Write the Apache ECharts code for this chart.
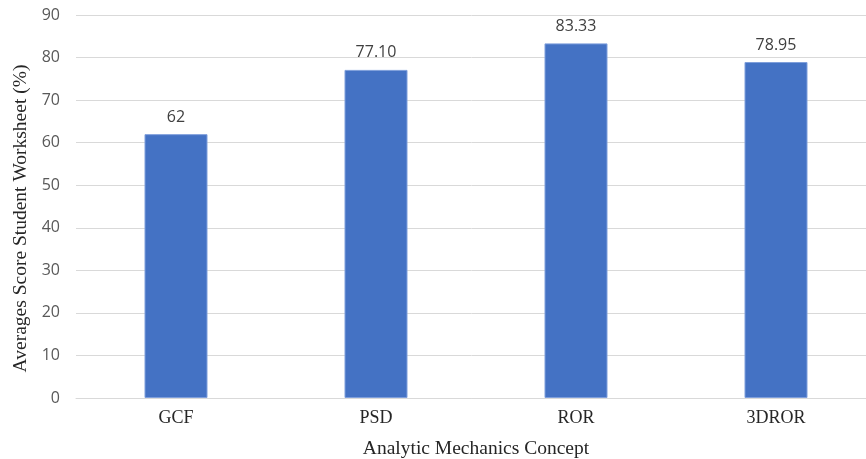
<!DOCTYPE html>
<html>
<head>
<meta charset="utf-8">
<script src="https://cdn.jsdelivr.net/npm/echarts@6/dist/echarts.min.js"></script>
<style>
  html, body { margin: 0; padding: 0; background: #fff; }
  #chart { width: 866px; height: 459px; }
</style>
</head>
<body>
<div id="chart"></div>
<script>
// Average worksheet scores per analytic mechanics concept
const categories = ['GCF', 'PSD', 'ROR', '3DROR'];
const scores = [62, 77.10, 83.33, 78.95];
const scoreLabels = ['62', '77.10', '83.33', '78.95'];
const yTicks = { min: 0, max: 90, interval: 10 };

const chart = echarts.init(document.getElementById('chart'));
chart.setOption({
  animation: false,
  grid: {
    left: 76, right: -10, top: 15, bottom: 61,
    containLabel: false,
    outerBoundsMode: 'none'
  },
  xAxis: {
    type: 'category',
    data: categories,
    name: 'Analytic Mechanics Concept',
    nameLocation: 'middle',
    nameGap: 41,
    nameTextStyle: { fontFamily: 'Liberation Serif', fontSize: 19.5, color: '#262626' },
    axisLine: { show: true, lineStyle: { color: '#d9d9d9', width: 1 } },
    axisTick: { show: false },
    axisLabel: { margin: 11, fontFamily: 'Liberation Serif', fontSize: 18, color: '#262626' }
  },
  yAxis: {
    type: 'value',
    min: yTicks.min,
    max: yTicks.max,
    interval: yTicks.interval,
    name: 'Averages Score Student Worksheet (%)',
    nameLocation: 'middle',
    nameGap: 44,
    nameTextStyle: {
      fontFamily: 'Liberation Serif', fontSize: 19.5, color: '#262626',
      padding: [0, 24, 0, 0]
    },
    axisLine: { show: false },
    axisTick: { show: false },
    axisLabel: { margin: 16, fontFamily: 'Open Sans', fontSize: 16, color: '#595959' },
    splitLine: { lineStyle: { color: '#d9d9d9', width: 1 } }
  },
  series: [{
    type: 'bar',
    data: scores,
    barWidth: 63,
    itemStyle: { color: '#4472c4', borderColor: '#7f9fdc', borderWidth: 1 },
    label: {
      show: true,
      position: 'top',
      distance: 9,
      fontFamily: 'Open Sans',
      fontSize: 16,
      color: '#404040',
      formatter: p => scoreLabels[p.dataIndex]
    }
  }]
});
</script>
</body>
</html>
